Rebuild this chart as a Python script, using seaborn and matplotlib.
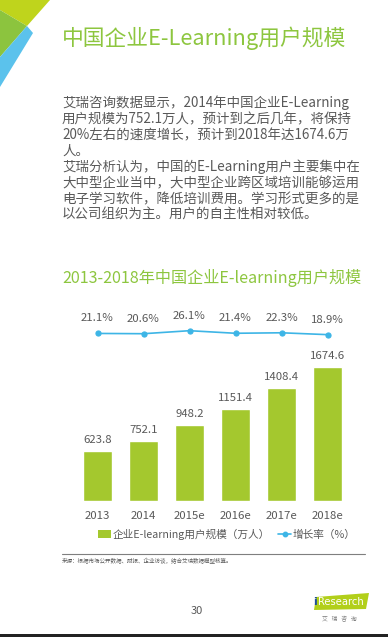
import numpy as np
import matplotlib
matplotlib.use('Agg')
import matplotlib.pyplot as plt
from matplotlib.patches import Polygon, Patch, Rectangle
from matplotlib.lines import Line2D
import seaborn as sns

# data
years = ['2013', '2014', '2015e', '2016e', '2017e', '2018e']
users = [623.8, 752.1, 948.2, 1151.4, 1408.4, 1674.6]   # 万人
growth = [21.1, 20.6, 26.1, 21.4, 22.3, 18.9]          # %

page_title = '中国企业E-Learning用户规模'
chart_title = '2013-2018年中国企业E-learning用户规模'
body_lines = [
    '艾瑞咨询数据显示，2014年中国企业E-Learning',
    '用户规模为752.1万人，预计到之后几年，将保持',
    '20%左右的速度增长，预计到2018年达1674.6万',
    '人。',
    '艾瑞分析认为，中国的E-Learning用户主要集中在',
    '大中型企业当中，大中型企业跨区域培训能够运用',
    '电子学习软件，降低培训费用。学习形式更多的是',
    '以公司组织为主。用户的自主性相对较低。',
]
legend_labels = ['企业E-learning用户规模（万人）', '增长率（%）']
source = '来源：根据市场公开数据、财报、企业访谈，结合艾瑞数据模型核算。'

bar_color = '#a4c82e'
line_color = '#3db5e6'
green_text = '#8dc63f'
gray = '#595959'

sns.set_theme(style='white')
plt.rcParams['font.family'] = ['Noto Sans CJK SC', 'DejaVu Sans']

W, H = 388, 637
fig = plt.figure(figsize=(W / 100, H / 100), dpi=100)


def fx(x):
    return x / W


def fy(y):
    return 1 - y / H


# corner decoration
for pts, c in [([(0, 0), (50, 0), (27, 26), (0, 10)], '#bfd41c'),
               ([(0, 10), (27, 26), (0, 57)], '#8cc43e'),
               ([(27, 26), (33, 33), (0, 87), (0, 57)], '#5bc2ec')]:
    fig.patches.append(Polygon([(fx(a), fy(b)) for a, b in pts], closed=True,
                               transform=fig.transFigure, color=c, lw=0))

fig.text(fx(62), fy(38), page_title, color=green_text, fontsize=15.7,
         va='center', ha='left')

for i, line in enumerate(body_lines):
    fig.text(fx(62), fy(103 + i * 16.0), line, color=gray, fontsize=9.7,
             va='center', ha='left')

fig.text(fx(62), fy(278), chart_title, color=green_text, fontsize=11.6,
         va='center', ha='left')

# bars
ax = fig.add_axes([fx(74.5), fy(501), 276 / W, 152 / H])
sns.barplot(x=years, y=users, color=bar_color, saturation=1, width=0.63, ax=ax)
ax.set_xlim(-0.5, 5.5)
ax.set_ylim(0, 1900)
ax.bar_label(ax.containers[0], labels=[f'{v:.1f}' for v in users],
             padding=4.5, fontsize=8.2, color=gray)
ax.set_yticks([])
ax.set_xlabel('')
ax.set_ylabel('')
ax.tick_params(axis='x', length=0, pad=7, labelsize=8.2, labelcolor=gray)
sns.despine(ax=ax, left=True, bottom=True)
ax.patch.set_alpha(0)

# growth line
ax2 = fig.add_axes([fx(74.5), fy(345), 276 / W, 40 / H])
sns.pointplot(x=years, y=growth, color=line_color, markers='o',
              markersize=3.6, linewidth=1.2, ax=ax2)
ax2.set_xlim(-0.5, 5.5)
ax2.set_ylim(0, 73)
for i, g in enumerate(growth):
    ax2.annotate(f'{g}%', (i, g), xytext=(0, 10.8), textcoords='offset points',
                 ha='center', va='center', fontsize=8.2, color=gray)
ax2.axis('off')

handles = [Patch(facecolor=bar_color, edgecolor='none'),
           Line2D([], [], color=line_color, marker='o', markersize=3.2, lw=1.2)]
ax.legend(handles, legend_labels, loc='center', ncol=2, frameon=False,
          bbox_to_anchor=(fx(227), fy(534)), bbox_transform=fig.transFigure,
          fontsize=7.7, labelcolor=gray, handlelength=1.2, handletextpad=0.15,
          columnspacing=0.8, handleheight=0.8)

# source line
fig.lines.append(Line2D([fx(62), fx(365)], [fy(554), fy(554)],
                        transform=fig.transFigure, color='#7f7f7f', lw=0.8))
fig.text(fx(62), fy(561), source, color=gray, fontsize=4.0, va='center', ha='left')

# footer
fig.text(fx(197), fy(611), '30', color=gray, fontsize=8, va='center', ha='center')
fig.patches.append(Polygon([(fx(316), fy(597)), (fx(369), fy(593)),
                            (fx(366), fy(609)), (fx(314), fy(610))], closed=True,
                           transform=fig.transFigure, color='#b2cf1a', lw=0))
fig.text(fx(313), fy(602), 'i', color='#1f4e9c', fontsize=8, fontweight='bold',
         va='center', ha='left', family='DejaVu Sans')
fig.text(fx(318), fy(602), 'Research', color='white', fontsize=7.2,
         va='center', ha='left', family='DejaVu Sans')
fig.text(fx(339), fy(619), '艾   瑞   咨   询', color='#7f7f7f', fontsize=4.2,
         va='center', ha='center')
fig.patches.append(Rectangle((0, 0), 1, fy(634), transform=fig.transFigure,
                             color='#222222', lw=0))

fig.savefig('out.png', dpi=100)
